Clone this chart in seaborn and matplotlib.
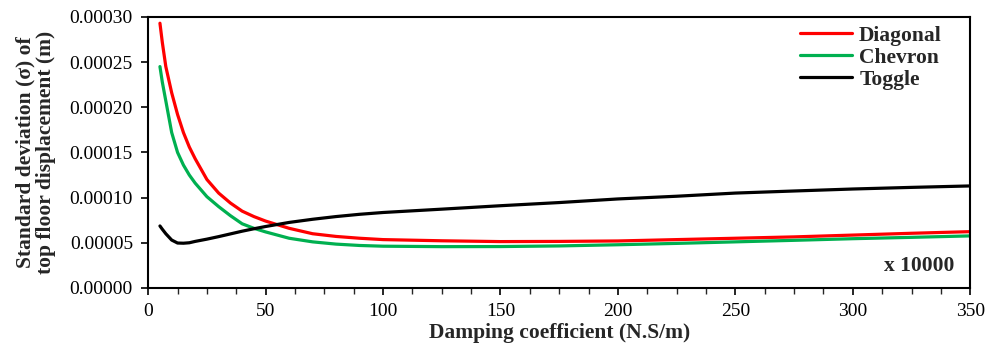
import matplotlib
matplotlib.use("Agg")
import matplotlib.pyplot as plt
import seaborn as sns
import pandas as pd
from matplotlib.ticker import MultipleLocator, FormatStrFormatter

x_vals = [5, 6, 7.5, 10, 12.5, 15, 17.5, 20, 25, 30, 35, 40, 45, 50, 60, 70, 80, 90, 100,
          125, 150, 175, 200, 225, 250, 275, 300, 325, 350]
diagonal = [0.000293, 0.000272, 0.000245, 0.000216, 0.000192, 0.000172, 0.000156, 0.000143,
            0.000120, 0.000105, 0.000094, 0.000085, 0.000079, 0.000074, 0.000066, 0.000060,
            0.000057, 0.000055, 0.0000535, 0.0000522, 0.0000513, 0.0000515, 0.000052,
            0.0000535, 0.000055, 0.0000565, 0.0000585, 0.0000605, 0.0000623]
chevron = [0.000245, 0.000228, 0.000207, 0.000172, 0.000150, 0.000136, 0.000125, 0.000116,
           0.000101, 0.000090, 0.000080, 0.000071, 0.000066, 0.000062, 0.000055, 0.000051,
           0.0000485, 0.000047, 0.0000462, 0.0000457, 0.0000458, 0.0000465, 0.0000478,
           0.0000493, 0.000051, 0.0000527, 0.0000545, 0.000056, 0.0000576]
toggle = [0.0000686, 0.000065, 0.000060, 0.000053, 0.0000497, 0.0000495, 0.0000500, 0.0000515,
          0.000054, 0.0000568, 0.0000598, 0.0000628, 0.0000655, 0.0000680, 0.0000725, 0.0000760,
          0.0000790, 0.0000815, 0.0000835, 0.0000872, 0.0000910, 0.0000945, 0.0000985,
          0.0001015, 0.0001050, 0.0001073, 0.0001095, 0.0001113, 0.0001129]
series_names = ["Diagonal", "Chevron", "Toggle"]
colors = ["#FF0000", "#00B050", "#000000"]

df = pd.DataFrame({"x": x_vals * 3,
                   "y": diagonal + chevron + toggle,
                   "series": [n for n in series_names for _ in x_vals]})

sns.set_style("white")
plt.rcParams["font.family"] = ["Liberation Serif", "DejaVu Serif"]

fig = plt.figure(figsize=(9.88, 3.52), dpi=100)
ax = fig.add_axes([0.150, 0.182, 0.832, 0.770])
sns.lineplot(data=df, x="x", y="y", hue="series", palette=dict(zip(series_names, colors)),
             linewidth=2.3, ax=ax, legend=True)

ax.set_xlim(0, 350)
ax.set_ylim(0, 0.0003)
ax.xaxis.set_major_locator(MultipleLocator(50))
ax.xaxis.set_minor_locator(MultipleLocator(12.5))
ax.yaxis.set_major_locator(MultipleLocator(0.00005))
ax.yaxis.set_major_formatter(FormatStrFormatter("%.5f"))
ax.tick_params(axis="both", which="major", direction="out", length=5, width=1.2,
               labelsize=14, colors="black", bottom=True, left=True, pad=6)
ax.tick_params(axis="x", which="minor", direction="out", length=4, width=1.0, bottom=True)
for s in ax.spines.values():
    s.set_linewidth(1.5)
    s.set_color("black")

ax.set_xlabel("Damping coefficient (N.S/m)", fontsize=15.5, fontweight="bold", labelpad=2)
ax.set_ylabel("Standard deviation (σ) of\ntop floor displacement (m)", fontsize=15.5,
              fontweight="bold", labelpad=10, linespacing=1.0)

leg = ax.legend(loc="upper right", bbox_to_anchor=(0.976, 1.0), frameon=False,
                handlelength=2.4, handletextpad=0.35, labelspacing=0.1, borderaxespad=0.0,
                prop={"weight": "bold", "size": 15.5})
ax.text(0.9805, 0.045, "x 10000", transform=ax.transAxes, ha="right", va="bottom",
        fontsize=15.5, fontweight="bold")

fig.savefig("out.png", dpi=100)
